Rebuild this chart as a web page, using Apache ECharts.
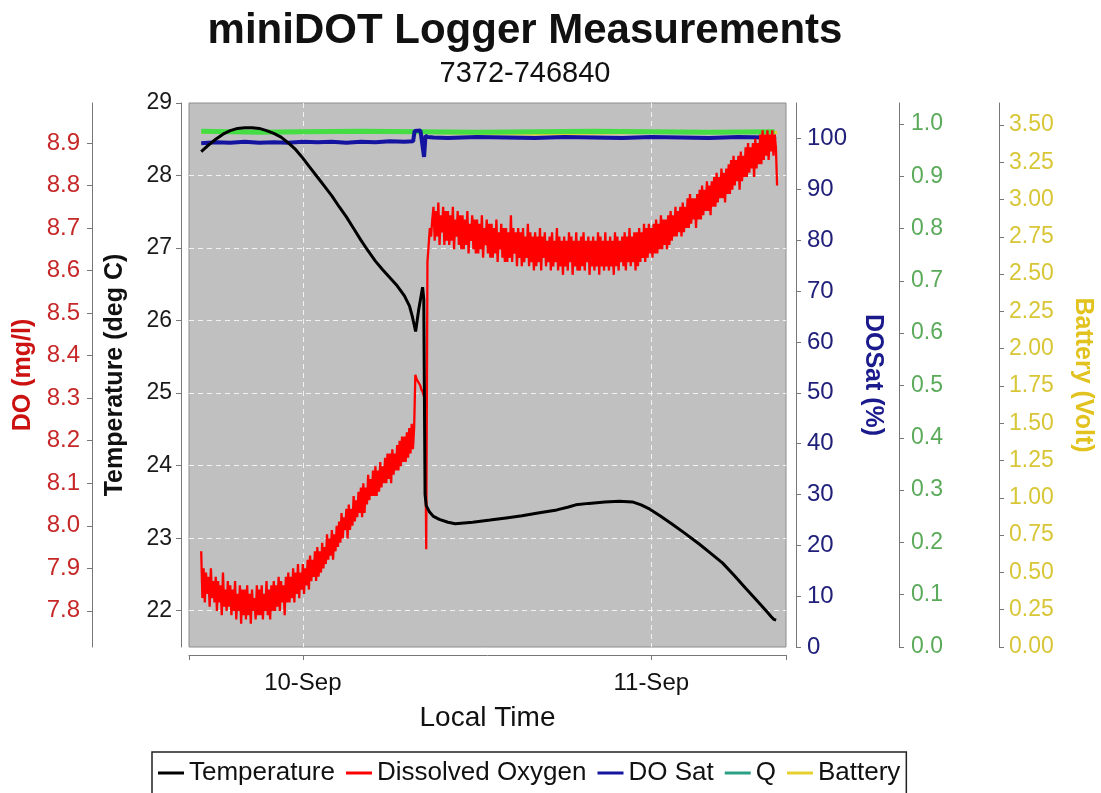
<!DOCTYPE html>
<html>
<head>
<meta charset="utf-8">
<title>miniDOT Logger Measurements</title>
<script src="https://cdn.jsdelivr.net/npm/echarts@6.0.0/dist/echarts.min.js"></script>
<style>
  html, body { margin: 0; padding: 0; background: #fff; }
  #main { width: 1101px; height: 793px; }
</style>
</head>
<body>
<div id="main"></div>
<script>
// x values are hours from 10-Sep 00:00 (local time)
var xTickHours = [0, 24];
var xTickLabels = ['10-Sep', '11-Sep'];

// dissolved oxygen, one reading every 5 min from 9-Sep 17:00 (one row = one hour)
var doStartHour = -7;
var doStepMin = 5;
var doMgL = [
  7.94, 7.83, 7.90, 7.82, 7.89, 7.84, 7.88, 7.81, 7.90, 7.83, 7.87, 7.82,
  7.88, 7.80, 7.87, 7.82, 7.86, 7.79, 7.89, 7.81, 7.85, 7.80, 7.87, 7.81,
  7.86, 7.79, 7.85, 7.80, 7.87, 7.78, 7.84, 7.80, 7.86, 7.77, 7.85, 7.79,
  7.85, 7.78, 7.86, 7.79, 7.84, 7.77, 7.85, 7.80, 7.83, 7.78, 7.86, 7.79,
  7.85, 7.79, 7.86, 7.78, 7.84, 7.80, 7.87, 7.79, 7.85, 7.78, 7.86, 7.80,
  7.87, 7.80, 7.86, 7.81, 7.88, 7.80, 7.87, 7.82, 7.86, 7.79, 7.88, 7.82,
  7.89, 7.82, 7.88, 7.83, 7.90, 7.82, 7.89, 7.84, 7.91, 7.83, 7.89, 7.85,
  7.91, 7.84, 7.90, 7.86, 7.92, 7.85, 7.93, 7.87, 7.92, 7.88, 7.94, 7.87,
  7.95, 7.88, 7.94, 7.89, 7.96, 7.90, 7.95, 7.91, 7.98, 7.92, 7.97, 7.93,
  7.99, 7.92, 7.98, 7.94, 8.00, 7.95, 8.01, 7.96, 8.03, 7.97, 8.02, 7.99,
  8.04, 7.97, 8.05, 7.99, 8.04, 8.00, 8.07, 8.01, 8.06, 8.02, 8.08, 8.03,
  8.09, 8.02, 8.10, 8.03, 8.09, 8.05, 8.12, 8.06, 8.11, 8.07, 8.13, 8.07,
  8.14, 8.07, 8.13, 8.08, 8.15, 8.09, 8.14, 8.10, 8.16, 8.10, 8.17, 8.11,
  8.17, 8.10, 8.18, 8.12, 8.17, 8.13, 8.19, 8.13, 8.20, 8.14, 8.21, 8.15,
  8.21, 8.15, 8.22, 8.16, 8.23, 8.17, 8.24, 8.18, 8.23, 8.355, 8.345, 8.34,
  8.335, 8.33, 8.32, 8.315, 8.305, 8.30, 7.945, 8.62, 8.66, 8.70, 8.68, 8.72,
  8.75, 8.67, 8.74, 8.68, 8.76, 8.66, 8.73, 8.69, 8.75, 8.66, 8.74, 8.67,
  8.74, 8.66, 8.73, 8.67, 8.75, 8.65, 8.72, 8.68, 8.74, 8.66, 8.73, 8.65,
  8.73, 8.65, 8.72, 8.66, 8.74, 8.64, 8.71, 8.67, 8.73, 8.65, 8.72, 8.64,
  8.72, 8.64, 8.71, 8.65, 8.73, 8.63, 8.70, 8.66, 8.72, 8.64, 8.71, 8.63,
  8.71, 8.63, 8.70, 8.64, 8.72, 8.62, 8.69, 8.65, 8.71, 8.63, 8.70, 8.62,
  8.70, 8.62, 8.69, 8.63, 8.73, 8.62, 8.70, 8.64, 8.69, 8.61, 8.70, 8.63,
  8.69, 8.61, 8.70, 8.62, 8.68, 8.63, 8.71, 8.61, 8.69, 8.62, 8.68, 8.60,
  8.69, 8.61, 8.68, 8.62, 8.70, 8.60, 8.68, 8.63, 8.69, 8.61, 8.67, 8.62,
  8.68, 8.60, 8.69, 8.61, 8.67, 8.62, 8.70, 8.60, 8.68, 8.61, 8.67, 8.59,
  8.68, 8.61, 8.67, 8.60, 8.69, 8.62, 8.68, 8.59, 8.67, 8.61, 8.69, 8.60,
  8.67, 8.60, 8.68, 8.61, 8.69, 8.60, 8.67, 8.62, 8.68, 8.59, 8.67, 8.61,
  8.68, 8.60, 8.67, 8.61, 8.69, 8.59, 8.68, 8.61, 8.67, 8.60, 8.69, 8.61,
  8.67, 8.60, 8.68, 8.61, 8.67, 8.59, 8.69, 8.61, 8.68, 8.60, 8.67, 8.62,
  8.68, 8.61, 8.69, 8.60, 8.68, 8.62, 8.70, 8.61, 8.68, 8.62, 8.69, 8.60,
  8.69, 8.61, 8.70, 8.62, 8.69, 8.63, 8.71, 8.62, 8.70, 8.63, 8.71, 8.64,
  8.70, 8.63, 8.71, 8.64, 8.72, 8.64, 8.71, 8.65, 8.73, 8.65, 8.72, 8.66,
  8.72, 8.65, 8.73, 8.66, 8.74, 8.67, 8.73, 8.68, 8.75, 8.68, 8.74, 8.69,
  8.75, 8.68, 8.76, 8.69, 8.75, 8.70, 8.77, 8.70, 8.78, 8.71, 8.77, 8.72,
  8.77, 8.70, 8.78, 8.72, 8.79, 8.72, 8.80, 8.73, 8.79, 8.74, 8.81, 8.74,
  8.80, 8.73, 8.81, 8.75, 8.82, 8.75, 8.83, 8.76, 8.82, 8.77, 8.84, 8.77,
  8.83, 8.76, 8.84, 8.78, 8.85, 8.78, 8.86, 8.79, 8.87, 8.80, 8.86, 8.81,
  8.87, 8.79, 8.88, 8.81, 8.87, 8.82, 8.89, 8.82, 8.90, 8.83, 8.89, 8.84,
  8.90, 8.82, 8.91, 8.84, 8.90, 8.85, 8.92, 8.85, 8.93, 8.86, 8.92, 8.87,
  8.93, 8.86, 8.92, 8.88, 8.93, 8.87, 8.92, 8.89, 8.80
];

// temperature
var tempHours = [-7.0, -6.5, -6.0, -5.5, -5.0, -4.5, -4.0, -3.5, -3.0, -2.5, -2.0, -1.5, -1.0, -0.5,
  0.0, 0.5, 1.0, 1.5, 2.0, 2.5, 3.0, 3.5, 4.0, 4.5, 5.0, 5.5, 6.0, 6.5, 7.0, 7.35, 7.55, 7.77, 7.98,
  8.25, 8.33, 8.42, 8.5, 8.73, 9.0, 9.4, 10.0, 10.5, 11.7, 12.9, 14.0, 15.1, 16.3, 17.5, 18.3, 18.8,
  19.7, 20.8, 21.8, 22.7, 23.3, 23.9, 24.6, 25.4, 26.3, 27.3, 28.1, 28.9, 29.7, 30.5, 31.1, 31.6,
  32.0, 32.25, 32.45, 32.6];
var tempC = [28.33, 28.42, 28.50, 28.57, 28.62, 28.65, 28.66, 28.66, 28.65, 28.62, 28.58, 28.53, 28.45, 28.36,
  28.24, 28.11, 27.98, 27.85, 27.72, 27.57, 27.43, 27.27, 27.11, 26.96, 26.82, 26.70, 26.59, 26.48, 26.34,
  26.20, 26.05, 25.85, 26.15, 26.46, 26.30, 23.60, 23.45, 23.36, 23.30, 23.26, 23.22, 23.20, 23.22, 23.25,
  23.28, 23.31, 23.35, 23.39, 23.43, 23.46, 23.48, 23.50, 23.51, 23.50, 23.46, 23.40, 23.31, 23.20, 23.07,
  22.92, 22.79, 22.66, 22.49, 22.31, 22.18, 22.07, 21.98, 21.92, 21.88, 21.87];

// DO saturation
var satHours = [-7, -6, -5, -4, -3, -2, -1, 0, 1, 2, 3, 4, 5, 6, 7, 7.6, 7.7, 8.1, 8.2, 8.35, 8.45, 8.6,
  9, 10, 12, 14, 16, 18, 20, 22, 24, 26, 28, 30, 32, 32.6];
var satPct = [99.1, 99.3, 99.2, 99.4, 99.2, 99.3, 99.2, 99.4, 99.3, 99.4, 99.2, 99.4, 99.3, 99.5, 99.4, 99.5, 101.5,
  101.6, 101.3, 96.4, 100.6, 100.3, 100.2, 100.1, 100.3, 100.2, 100.1, 100.3, 100.2, 100.1, 100.3, 100.2,
  100.1, 100.3, 100.2, 100.3];

// Q
var qHours = [-7, -3, 0, 4, 8, 12, 16, 20, 24, 28, 32.5];
var qVals = [0.986, 0.984, 0.985, 0.986, 0.985, 0.984, 0.985, 0.986, 0.985, 0.984, 0.985];

// battery
var batHours = [-7, 0, 8, 16, 24, 32.67];
var batVolts = [3.45, 3.45, 3.45, 3.44, 3.45, 3.45];

var font = 'Liberation Sans, Arial, sans-serif';

function pairs(hours, vals) {
    return hours.map(function (h, i) { return [h, vals[i]]; });
}
var doData = doMgL.map(function (v, i) { return [doStartHour + i * doStepMin / 60, v]; });

var axisGray = '#777';
var gridLine = {
    show: true, showMinLine: false, showMaxLine: false,
    lineStyle: { color: '#f2f2f2', type: [5, 4], width: 1 }
};
var yLine = { show: true, onZero: false, lineStyle: { color: axisGray } };
var yTick = { show: true, length: 5, lineStyle: { color: axisGray } };

var chart = echarts.init(document.getElementById('main'));

var option = {
    animation: false,
    backgroundColor: '#fff',
    title: {
        text: 'miniDOT Logger Measurements',
        subtext: '7372-746840',
        left: 520, top: 5, textAlign: 'center', itemGap: 7,
        textStyle: { fontSize: 42, fontWeight: 'bold', color: '#111', fontFamily: font },
        subtextStyle: { fontSize: 29, color: '#111', fontFamily: font }
    },
    legend: {
        left: 152, top: 752, icon: 'rect', itemWidth: 26, itemHeight: 3, itemGap: 11,
        padding: [8, 6], borderColor: '#222', borderWidth: 1.5,
        textStyle: { fontSize: 26, color: '#111', fontFamily: font },
        data: ['Temperature', 'Dissolved Oxygen', 'DO Sat', { name: 'Q', itemStyle: { color: '#2ba084' } }, 'Battery']
    },
    grid: {
        left: 189, right: 315, top: 103, bottom: 146,
        show: true, backgroundColor: '#c0c0c0', borderColor: '#8c8c8c', borderWidth: 1,
        containLabel: false, outerBoundsMode: 'none'
    },
    xAxis: {
        type: 'value', min: -7.84, max: 33.28, minInterval: 24, maxInterval: 24, offset: 8,
        axisLine: { show: true, onZero: false, lineStyle: { color: axisGray } },
        axisTick: { show: true, length: 5, lineStyle: { color: axisGray } },
        axisLabel: {
            fontSize: 24, color: '#111', margin: 16, fontFamily: font,
            formatter: function (v) {
                var k = xTickHours.indexOf(Math.round(v * 1000) / 1000);
                return k < 0 ? '' : xTickLabels[k];
            }
        },
        splitLine: gridLine,
        name: 'Local Time', nameLocation: 'middle', nameGap: 49,
        nameTextStyle: { fontSize: 28, color: '#111', fontFamily: font }
    },
    yAxis: [
        {
            type: 'value', position: 'left', offset: 8, min: 21.5, max: 29, minInterval: 1, maxInterval: 1,
            axisLine: yLine, axisTick: yTick,
            axisLabel: { fontSize: 23, color: '#1a1a1a', margin: 9, showMinLabel: false, fontFamily: font },
            splitLine: gridLine,
            name: 'Temperature (deg C)', nameLocation: 'middle', nameGap: 53, nameRotate: 90,
            nameTextStyle: { fontSize: 25, fontWeight: 'bold', color: '#111', fontFamily: font }
        },
        {
            type: 'value', position: 'left', offset: 97, min: 7.715, max: 8.994, minInterval: 0.1, maxInterval: 0.1,
            axisLine: yLine, axisTick: yTick,
            axisLabel: {
                fontSize: 24, color: '#c62828', margin: 12, showMinLabel: false, showMaxLabel: false, fontFamily: font,
                formatter: function (v) { return v.toFixed(1); }
            },
            splitLine: { show: false },
            name: 'DO (mg/l)', nameLocation: 'middle', nameGap: 52, nameRotate: 90,
            nameTextStyle: { fontSize: 25, fontWeight: 'bold', color: '#cc1111', fontFamily: font }
        },
        {
            type: 'value', position: 'right', offset: 10, min: 0, max: 107, minInterval: 10, maxInterval: 10,
            axisLine: yLine, axisTick: yTick,
            axisLabel: { fontSize: 24, color: '#20207a', margin: 11, showMaxLabel: false, fontFamily: font },
            splitLine: { show: false },
            name: 'DOSat (%)', nameLocation: 'middle', nameGap: 64, nameRotate: -90,
            nameTextStyle: { fontSize: 25, fontWeight: 'bold', color: '#1a1a8c', fontFamily: font }
        },
        {
            type: 'value', position: 'right', offset: 113, min: 0, max: 1.04, minInterval: 0.1, maxInterval: 0.1,
            axisLine: yLine, axisTick: yTick,
            axisLabel: {
                fontSize: 23, color: '#5aaa5a', margin: 12, showMaxLabel: false, fontFamily: font,
                formatter: function (v) { return v.toFixed(1); }
            },
            splitLine: { show: false }
        },
        {
            type: 'value', position: 'right', offset: 213, min: 0, max: 3.647, minInterval: 0.25, maxInterval: 0.25,
            axisLine: yLine, axisTick: yTick,
            axisLabel: {
                fontSize: 23, color: '#d8c636', margin: 10, showMaxLabel: false, fontFamily: font,
                formatter: function (v) { return v.toFixed(2); }
            },
            splitLine: { show: false },
            name: 'Battery (Volt)', nameLocation: 'middle', nameGap: 71, nameRotate: -90,
            nameTextStyle: { fontSize: 25, fontWeight: 'bold', color: '#e2c21e', fontFamily: font }
        }
    ],
    series: [
        { name: 'Battery', type: 'line', yAxisIndex: 4, data: pairs(batHours, batVolts), symbol: 'none',
          color: '#e6d030', lineStyle: { width: 3 } },
        { name: 'Q', type: 'line', yAxisIndex: 3, data: pairs(qHours, qVals), symbol: 'none',
          color: '#44dd44', lineStyle: { width: 5 } },
        { name: 'DO Sat', type: 'line', yAxisIndex: 2, data: pairs(satHours, satPct), symbol: 'none',
          color: '#1414a0', lineStyle: { width: 4 } },
        { name: 'Dissolved Oxygen', type: 'line', yAxisIndex: 1, data: doData, symbol: 'none',
          color: '#ff0000', lineStyle: { width: 2.3 } },
        { name: 'Temperature', type: 'line', yAxisIndex: 0, data: pairs(tempHours, tempC), symbol: 'none',
          color: '#000000', lineStyle: { width: 3 } }
    ]
};

chart.setOption(option);
window.addEventListener('resize', function () { chart.resize(); });
</script>
</body>
</html>
